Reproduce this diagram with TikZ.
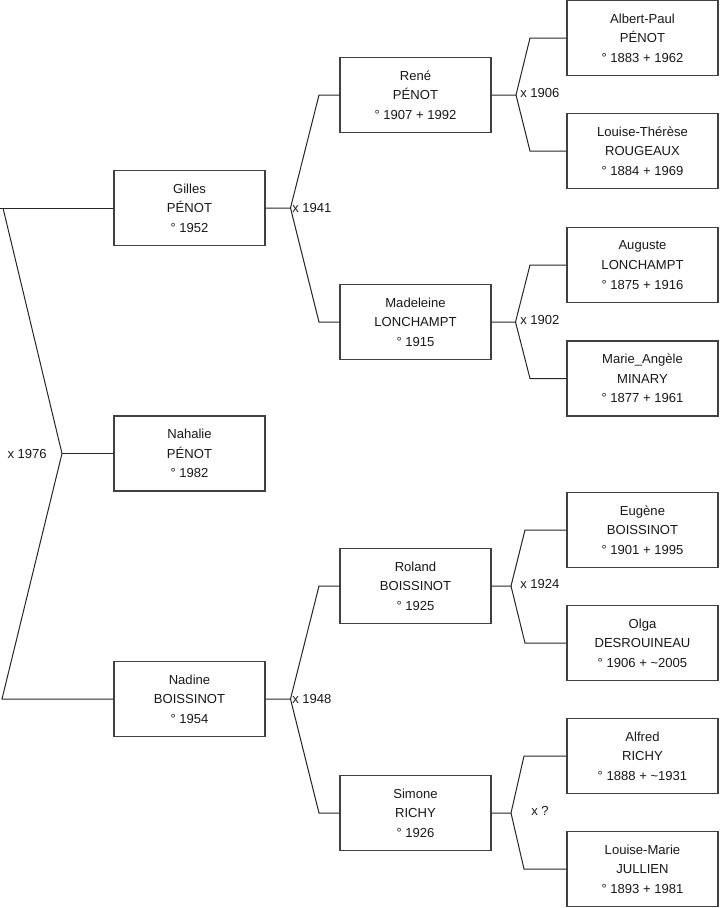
\documentclass[tikz,border=0pt]{standalone}
\usepackage{fontspec}
\setmainfont{Liberation Sans}
\begin{document}
\begin{tikzpicture}[x=0.75pt,y=-0.75pt,
  person/.style={draw=black!75,line width=0.8pt,fill=white,rectangle,
    minimum width=113.25pt,minimum height=56.25pt,inner sep=0pt,
    align=center,font=\fontsize{9.8}{14.7}\selectfont,text=black!90},
  link/.style={draw=black!85,line width=0.75pt},
  mlabel/.style={inner sep=0pt,font=\fontsize{9.8}{11}\selectfont,text=black!90}]
\useasboundingbox (0,0) rectangle (719,908);

% generation 1
\node[person] (gilles)  at (189.5,208)   {Gilles\\PÉNOT\\° 1952};
\node[person] (nahalie) at (189.5,453.5) {Nahalie\\PÉNOT\\° 1982};
\node[person] (nadine)  at (189.5,699)   {Nadine\\BOISSINOT\\° 1954};
% generation 2
\node[person] (rene)      at (415.5,95)  {René\\PÉNOT\\° 1907 + 1992};
\node[person] (madeleine) at (415.5,322) {Madeleine\\LONCHAMPT\\° 1915};
\node[person] (roland)    at (415.5,586) {Roland\\BOISSINOT\\° 1925};
\node[person] (simone)    at (415.5,813) {Simone\\RICHY\\° 1926};
% generation 3
\node[person] (albert)  at (642.5,38)    {Albert-Paul\\PÉNOT\\° 1883 + 1962};
\node[person] (louiset) at (642.5,151)   {Louise-Thérèse\\ROUGEAUX\\° 1884 + 1969};
\node[person] (auguste) at (642.5,265)   {Auguste\\LONCHAMPT\\° 1875 + 1916};
\node[person] (marie)   at (642.5,378.5) {Marie\_Angèle\\MINARY\\° 1877 + 1961};
\node[person] (eugene)  at (642.5,530)   {Eugène\\BOISSINOT\\° 1901 + 1995};
\node[person] (olga)    at (642.5,643)   {Olga\\DESROUINEAU\\° 1906 + \textasciitilde 2005};
\node[person] (alfred)  at (642.5,756)   {Alfred\\RICHY\\° 1888 + \textasciitilde 1931};
\node[person] (louisem) at (642.5,869)   {Louise-Marie\\JULLIEN\\° 1893 + 1981};

% marriage x 1976
\coordinate (a1976) at (0,208);
\coordinate (s1976) at (3,208);
\coordinate (b1976) at (62,453.5);
\coordinate (c1976) at (2,699);
\draw[link] (gilles.west) -- (a1976);
\draw[link] (s1976) -- (b1976) -- (c1976) -- (nadine.west);
\draw[link] (b1976) -- (nahalie.west);
\node[mlabel,anchor=east] (l1976) at (47,453.5) {x 1976};

% marriage x 1941
\coordinate (b1941) at (290.5,208);
\coordinate (u1941) at (319,95);
\coordinate (d1941) at (319,322);
\draw[link] (gilles.east) -- (b1941) -- (u1941) -- (rene.west);
\draw[link] (b1941) -- (d1941) -- (madeleine.west);
\node[mlabel,anchor=west] (l1941) at (292,208) {x 1941};

% marriage x 1948
\coordinate (b1948) at (290.5,699);
\coordinate (u1948) at (319,586);
\coordinate (d1948) at (319,813);
\draw[link] (nadine.east) -- (b1948) -- (u1948) -- (roland.west);
\draw[link] (b1948) -- (d1948) -- (simone.west);
\node[mlabel,anchor=west] (l1948) at (292,699) {x 1948};

% marriage x 1906
\coordinate (b1906) at (516,95);
\coordinate (u1906) at (530,38);
\coordinate (d1906) at (530,151);
\draw[link] (rene.east) -- (b1906) -- (u1906) -- (albert.west);
\draw[link] (b1906) -- (d1906) -- (louiset.west);
\node[mlabel,anchor=west] (l1906) at (520,93) {x 1906};

% marriage x 1902
\coordinate (b1902) at (515.5,322);
\coordinate (u1902) at (530,265);
\coordinate (d1902) at (530,378.5);
\draw[link] (madeleine.east) -- (b1902) -- (u1902) -- (auguste.west);
\draw[link] (b1902) -- (d1902) -- (marie.west);
\node[mlabel,anchor=west] (l1902) at (520,320) {x 1902};

% marriage x 1924
\coordinate (b1924) at (511,586);
\coordinate (u1924) at (525,530);
\coordinate (d1924) at (525,643);
\draw[link] (roland.east) -- (b1924) -- (u1924) -- (eugene.west);
\draw[link] (b1924) -- (d1924) -- (olga.west);
\node[mlabel,anchor=west] (l1924) at (520,584) {x 1924};

% marriage x ?
\coordinate (bq) at (511,813);
\coordinate (uq) at (524,756);
\coordinate (dq) at (524,869);
\draw[link] (simone.east) -- (bq) -- (uq) -- (alfred.west);
\draw[link] (bq) -- (dq) -- (louisem.west);
\node[mlabel,anchor=west] (lq) at (531,811) {x ?};
\end{tikzpicture}
\end{document}
